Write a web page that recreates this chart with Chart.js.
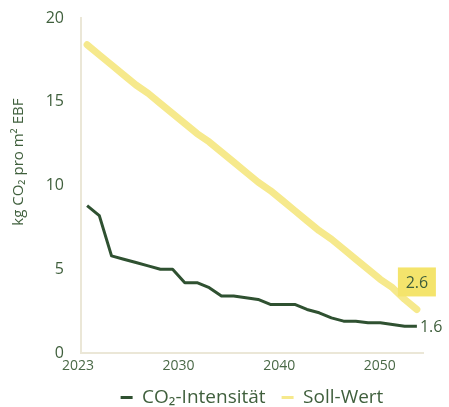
<!DOCTYPE html>
<html>
<head>
<meta charset="utf-8">
<script src="https://cdn.jsdelivr.net/npm/chart.js@4"></script>
<style>
  html, body { margin: 0; padding: 0; background: #ffffff; }
  #wrap { width: 449px; height: 407px; }
</style>
</head>
<body>
<div id="wrap"><canvas id="chart" width="449" height="407"></canvas></div>
<script>
// Years of the pathway
const years = [
  '2023', '2024', '2025', '2026', '2027', '2028', '2029', '2030', '2031', '2032',
  '2033', '2034', '2035', '2036', '2037', '2038', '2039', '2040', '2041', '2042',
  '2043', '2044', '2045', '2046', '2047', '2048', '2049', '2050'
];

// CO2 intensity of the portfolio, kg CO2 per m² EBF
const co2Intensity = [
  8.8, 8.2, 5.8, 5.6, 5.4, 5.2, 5.0, 5.0, 4.2, 4.2,
  3.9, 3.4, 3.4, 3.3, 3.2, 2.9, 2.9, 2.9, 2.6, 2.4,
  2.1, 1.9, 1.9, 1.8, 1.8, 1.7, 1.6, 1.6
];

// Target pathway (Soll-Wert), kg CO2 per m² EBF
const sollWert = [
  18.4, 17.8, 17.2, 16.6, 16.0, 15.5, 14.9, 14.3, 13.7, 13.1,
  12.6, 12.0, 11.4, 10.8, 10.2, 9.7, 9.1, 8.5, 7.9, 7.3,
  6.8, 6.2, 5.6, 5.0, 4.4, 3.9, 3.2, 2.6
];

// Labels shown under the time axis
const xTickLabels = ['2023', '2030', '2040', '2050'];
const yTicks = [0, 5, 10, 15, 20];

const seriesNames = ['CO\u2082-Intensit\u00e4t', 'Soll-Wert'];
const yTitle = 'kg CO\u2082 pro m\u00b2 EBF';

// --- styling ---
const FONT = '"Open Sans", "Noto Sans", sans-serif';
const TEXT = '#3f5f3c';
const TICK_TEXT = '#4a6947';
const GREEN = '#2f5131';
const YELLOW = '#f6e98c';
const YELLOW_BOX = '#f4e46c';
const AXIS = '#ebe7d7';

// label track for the time axis: the year labels sit every ten slots
const SLOT_COUNT = 35;
const SLOT_STEP = 10;
const slotLabels = new Array(SLOT_COUNT).fill('');
xTickLabels.forEach((t, i) => { slotLabels[i * SLOT_STEP] = t; });

// the axis title sits a little above the middle of the axis
const TITLE_LEAD = ' '.repeat(12);

// value labels at the end of each line
const endLabels = {
  id: 'endLabels',
  afterDatasetsDraw(chart, args, opts) {
    const ctx = chart.ctx;
    ctx.save();
    ctx.font = `16px ${FONT}`;
    ctx.textBaseline = 'middle';
    chart.data.datasets.forEach((ds, i) => {
      const meta = chart.getDatasetMeta(i);
      if (!meta.visible) return;
      const pt = meta.data[meta.data.length - 1];
      const text = ds.data[ds.data.length - 1].toFixed(1);
      const style = opts.styles[i];
      if (style.boxed) {
        const w = 38, h = 29;
        const cx = pt.x, bottom = pt.y - 13;
        ctx.fillStyle = style.box;
        ctx.fillRect(cx - w / 2, bottom - h, w, h);
        ctx.fillStyle = style.color;
        ctx.textAlign = 'center';
        ctx.fillText(text, cx, bottom - h / 2 + 1);
      } else {
        ctx.fillStyle = style.color;
        ctx.textAlign = 'left';
        ctx.fillText(text, pt.x + 3, pt.y + 1);
      }
    });
    ctx.restore();
  }
};

new Chart(document.getElementById('chart'), {
  type: 'line',
  data: {
    labels: years,
    datasets: [
      {
        label: seriesNames[0],
        data: co2Intensity,
        borderColor: GREEN,
        backgroundColor: GREEN,
        borderWidth: 3,
        pointRadius: 0,
        tension: 0,
        borderJoinStyle: 'round',
        xAxisID: 'x'
      },
      {
        label: seriesNames[1],
        data: sollWert,
        borderColor: YELLOW,
        backgroundColor: YELLOW,
        borderWidth: 7,
        pointRadius: 0,
        tension: 0,
        borderCapStyle: 'round',
        borderJoinStyle: 'round',
        xAxisID: 'x'
      }
    ]
  },
  options: {
    responsive: false,
    animation: false,
    devicePixelRatio: 1,
    layout: { padding: { top: 18, right: 26, bottom: 0, left: 0 } },
    scales: {
      x: {
        type: 'category',
        display: false,
        offset: true
      },
      xTicks: {
        type: 'category',
        labels: slotLabels,
        position: 'bottom',
        offset: false,
        afterFit(scale) { scale.height = 19; },
        grid: { display: false, drawTicks: false },
        border: { color: AXIS, width: 2 },
        ticks: {
          autoSkip: false,
          maxRotation: 0,
          color: TICK_TEXT,
          padding: 5,
          labelOffset: -3,
          font: { family: FONT, size: 14 }
        }
      },
      y: {
        min: 0,
        max: 20,
        afterBuildTicks(scale) { scale.ticks = yTicks.map(v => ({ value: v })); },
        afterFit(scale) {
          scale.width = 81;
          scale.paddingTop = 0;
          scale.paddingBottom = 0;
        },
        grid: { display: false, drawTicks: false },
        border: { color: AXIS, width: 2 },
        ticks: {
          color: TEXT,
          padding: 17,
          font: { family: FONT, size: 16 }
        },
        title: {
          display: true,
          text: TITLE_LEAD + yTitle,
          color: TEXT,
          padding: { top: 10, bottom: 0 },
          font: { family: FONT, size: 15 }
        }
      }
    },
    plugins: {
      legend: {
        position: 'bottom',
        fullSize: false,
        maxHeight: 35,
        labels: {
          color: TEXT,
          boxWidth: 12,
          boxHeight: 3,
          padding: 16,
          font: { family: FONT, size: 19 },
          generateLabels(chart) {
            return chart.data.datasets.map((ds, i) => ({
              text: ds.label,
              fillStyle: ds.borderColor,
              strokeStyle: ds.borderColor,
              lineWidth: 0,
              hidden: !chart.isDatasetVisible(i),
              datasetIndex: i,
              fontColor: TEXT
            }));
          }
        }
      },
      tooltip: { enabled: false },
      endLabels: {
        styles: [
          { boxed: false, color: TEXT },
          { boxed: true, box: YELLOW_BOX, color: TEXT }
        ]
      }
    }
  },
  plugins: [endLabels]
});
</script>
</body>
</html>
